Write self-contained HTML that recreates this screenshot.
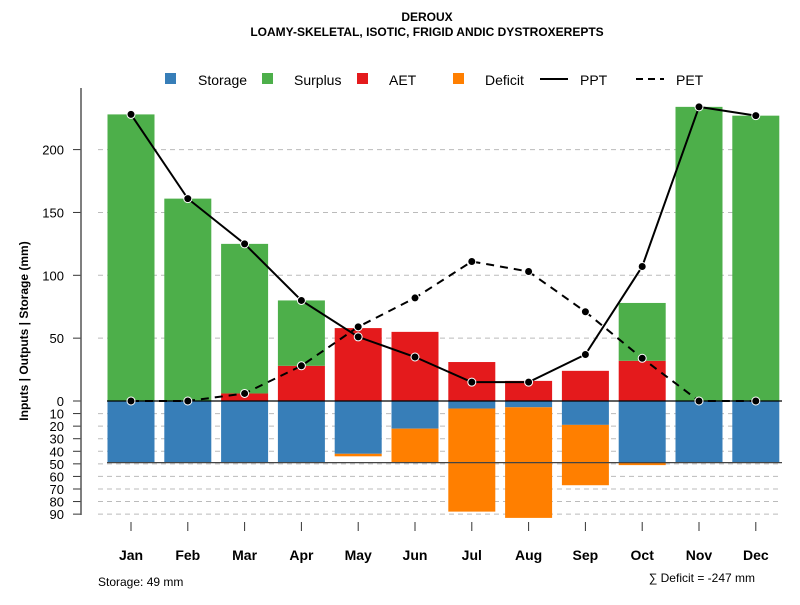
<!DOCTYPE html>
<html><head><meta charset="utf-8"><style>
body{margin:0;background:#fff;font-family:"Liberation Sans",sans-serif}
svg text{font-family:"Liberation Sans",sans-serif}
</style></head><body>
<svg id="c" width="800" height="600" xmlns="http://www.w3.org/2000/svg">
<text x="427" y="21" text-anchor="middle" font-size="12" font-weight="bold">DEROUX</text>
<text x="427" y="36" text-anchor="middle" font-size="12" font-weight="bold">LOAMY-SKELETAL, ISOTIC, FRIGID ANDIC DYSTROXEREPTS</text>
<g id="legend">
<rect x="165" y="73" width="11" height="11" fill="#377eb8"/>
<text x="198" y="85" font-size="14">Storage</text>
<rect x="262" y="73" width="11" height="11" fill="#4daf4a"/>
<text x="294" y="85" font-size="14">Surplus</text>
<rect x="357" y="73" width="11" height="11" fill="#e41a1c"/>
<text x="389" y="85" font-size="14">AET</text>
<rect x="453" y="73" width="11" height="11" fill="#ff7f00"/>
<text x="485" y="85" font-size="14">Deficit</text>
<line x1="540" y1="79" x2="568" y2="79" stroke="#000" stroke-width="2"/>
<text x="580" y="85" font-size="14">PPT</text>
<line x1="636" y1="79" x2="664" y2="79" stroke="#000" stroke-width="2" stroke-dasharray="7,5"/>
<text x="676" y="85" font-size="14">PET</text>
</g>
<text transform="translate(28,331) rotate(-90)" text-anchor="middle" font-size="12" font-weight="bold">Inputs | Outputs | Storage    (mm)</text>
<text x="98" y="586" font-size="12">Storage: 49 mm</text>
<text x="755" y="582" text-anchor="end" font-size="12">∑ Deficit = -247 mm</text>
<g id="grid"></g><g id="bars"></g><g id="lines"></g><g id="axes"></g>
</svg>
<script>
const months=["Jan","Feb","Mar","Apr","May","Jun","Jul","Aug","Sep","Oct","Nov","Dec"];
const ppt=[228,161,125,80,51,35,15,15,37,107,234,227];
const pet=[0,0,6,28,59,82,111,103,71,34,0,0];
const aet=[0,0,6,28,58,55,31,16,24,32,0,0];
const surplus=[228,161,119,52,0,0,0,0,0,46,234,227];
const storage=[49,49,49,49,42,22,6,5,19,49,49,49];
const deficit=[0,0,0,0,2,27,82,88,48,2,0,0];
const upTicks=[0,50,100,150,200];
const lowTicks=[10,20,30,40,50,60,70,80,90];
const storageCap=49;
const NS="http://www.w3.org/2000/svg";
const y0=401,k=1.257;
const yU=v=>y0-v*k, yL=v=>y0+v*k;
const xC=i=>131+i*56.8, bw=47;
function el(p,t,a){const e=document.createElementNS(NS,t);for(const q in a)e.setAttribute(q,a[q]);document.getElementById(p).appendChild(e);return e;}
upTicks.forEach(v=>{if(v>0){const g=el("grid","line",{x1:98,x2:782,y1:yU(v),y2:yU(v),stroke:"#bbb","stroke-dasharray":"5,4"});

}
const t=el("axes","line",{x1:73,x2:81,y1:yU(v),y2:yU(v),stroke:"#333"});


const l=el("axes","text",{x:64,y:yU(v)+5,"text-anchor":"end","font-size":"13"});l.textContent=v;

});
lowTicks.forEach(v=>{const g=el("grid","line",{x1:98,x2:782,y1:yL(v),y2:yL(v),stroke:"#bbb","stroke-dasharray":"5,4"});


const t=el("axes","line",{x1:73,x2:81,y1:yL(v),y2:yL(v),stroke:"#333"});


const l=el("axes","text",{x:64,y:yL(v)+5,"text-anchor":"end","font-size":"13"});l.textContent=v;

});
months.forEach((m,i)=>{const x=xC(i)-bw/2;
if(aet[i]>0){const r=el("bars","rect",{x:x,y:yU(aet[i]),width:bw,height:aet[i]*k,fill:"#e41a1c"});

}
if(surplus[i]>0){const r=el("bars","rect",{x:x,y:yU(aet[i]+surplus[i]),width:bw,height:surplus[i]*k,fill:"#4daf4a"});

}
const s=el("bars","rect",{x:x,y:y0,width:bw,height:storage[i]*k,fill:"#377eb8"});


if(deficit[i]>0){const r=el("bars","rect",{x:x,y:yL(storage[i]),width:bw,height:deficit[i]*k,fill:"#ff7f00"});

}
const t=el("axes","line",{x1:xC(i),x2:xC(i),y1:522,y2:531,stroke:"#333"});


const l=el("axes","text",{x:xC(i),y:560,"text-anchor":"middle","font-size":"14","font-weight":"bold"});l.textContent=m;

});
const sl=el("bars","line",{x1:107,x2:782,y1:yL(storageCap),y2:yL(storageCap),stroke:"#444","stroke-width":1.3});


const zl=el("bars","line",{x1:107,x2:782,y1:y0,y2:y0,stroke:"#000","stroke-width":1.3});


const ax=el("axes","line",{x1:81,x2:81,y1:88,y2:515,stroke:"#555","stroke-width":1.5});


function series(vals,name,dash){
const p=el("lines","polyline",{points:vals.map((v,i)=>xC(i)+","+yU(v)).join(" "),fill:"none",stroke:"#000","stroke-width":2,"stroke-dasharray":dash||"none"});


vals.forEach((v,i)=>{const c=el("lines","circle",{cx:xC(i),cy:yU(v),r:4,fill:"#000",stroke:"#fff","stroke-width":1});

});}
series(pet,"pet","8,6");
series(ppt,"ppt");
</script>
</body></html>
